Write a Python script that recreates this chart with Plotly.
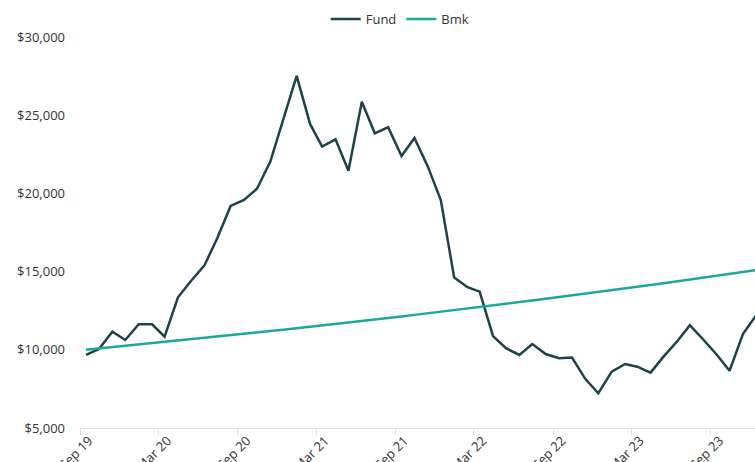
import plotly.graph_objects as go

months = [
    "2019-09-15", "2019-10-15", "2019-11-15", "2019-12-15",
    "2020-01-15", "2020-02-15", "2020-03-15", "2020-04-15", "2020-05-15", "2020-06-15",
    "2020-07-15", "2020-08-15", "2020-09-15", "2020-10-15", "2020-11-15", "2020-12-15",
    "2021-01-15", "2021-02-15", "2021-03-15", "2021-04-15", "2021-05-15", "2021-06-15",
    "2021-07-15", "2021-08-15", "2021-09-15", "2021-10-15", "2021-11-15", "2021-12-15",
    "2022-01-15", "2022-02-15", "2022-03-15", "2022-04-15", "2022-05-15", "2022-06-15",
    "2022-07-15", "2022-08-15", "2022-09-15", "2022-10-15", "2022-11-15", "2022-12-15",
    "2023-01-15", "2023-02-15", "2023-03-15", "2023-04-15", "2023-05-15", "2023-06-15",
    "2023-07-15", "2023-08-15", "2023-09-15", "2023-10-15", "2023-11-15", "2023-12-15",
]

fund = [
    9670, 10050, 11160, 10630, 11630, 11630, 10840, 13360, 14400, 15380,
    17130, 19200, 19580, 20300, 22030, 24690, 27510, 24440, 22990, 23460,
    21450, 25860, 23840, 24230, 22390, 23540, 21710, 19580, 14620, 14000,
    13720, 10880, 10100, 9670, 10370, 9730, 9460, 9500, 8130, 7220,
    8600, 9090, 8920, 8540, 9560, 10520, 11570, 10660, 9700, 8660,
    11010, 12180,
]

bmk = [
    10000, 10081, 10163, 10245, 10328, 10412, 10496, 10581, 10667, 10753,
    10840, 10928, 11016, 11105, 11195, 11286, 11377, 11469, 11562, 11656,
    11750, 11845, 11941, 12038, 12135, 12233, 12332, 12432, 12533, 12634,
    12737, 12840, 12944, 13049, 13154, 13261, 13368, 13476, 13586, 13696,
    13807, 13918, 14031, 14145, 14259, 14375, 14491, 14608, 14727, 14846,
    14966, 15088,
]

y_ticks = [5000, 10000, 15000, 20000, 25000, 30000]
y_labels = ["$5,000", "$10,000", "$15,000", "$20,000", "$25,000", "$30,000"]

FONT = "Open Sans"
TXT = "#333333"

fig = go.Figure()
fig.add_trace(go.Scatter(x=months, y=fund, name="Fund", mode="lines",
                         line=dict(color="#1c434a", width=2.5)))
fig.add_trace(go.Scatter(x=months, y=bmk, name="Bmk", mode="lines",
                         line=dict(color="#1ba89c", width=2.5)))

fig.update_layout(
    width=755, height=462,
    margin=dict(l=80, r=0, t=37, b=34, autoexpand=False),
    paper_bgcolor="white", plot_bgcolor="white",
    font=dict(family=FONT, size=13, color=TXT),
    showlegend=True,
    legend=dict(orientation="h", x=0.364, xanchor="left",
                y=1 - 19 / 462, yanchor="middle", yref="container",
                font=dict(family=FONT, size=13, color=TXT),
                itemwidth=30, bgcolor="rgba(0,0,0,0)"),
)

fig.update_xaxes(
    type="date",
    range=["2019-09-01", "2023-12-13"],
    tick0="2019-09-01", dtick="M6", tickformat="%b %y",
    tickangle=-45,
    showgrid=False, zeroline=False,
    showline=True, linecolor="#e3e3e3", linewidth=1,
    ticks="outside", ticklen=6, tickcolor="#e3e3e3",
    ticklabelstandoff=-7, ticklabelshift=9,
    tickfont=dict(family=FONT, size=13, color=TXT),
    automargin=False,
)
fig.update_yaxes(
    range=[5000, 30000],
    tickvals=y_ticks, ticktext=y_labels,
    showgrid=False, zeroline=False, showline=False,
    ticks="", ticklabelstandoff=14,
    tickfont=dict(family=FONT, size=13, color=TXT),
    automargin=False,
)

fig.write_html(
    "out.html",
    config={"displayModeBar": False},
    post_script="document.body.style.margin='0';document.body.style.overflow='hidden';",
)
